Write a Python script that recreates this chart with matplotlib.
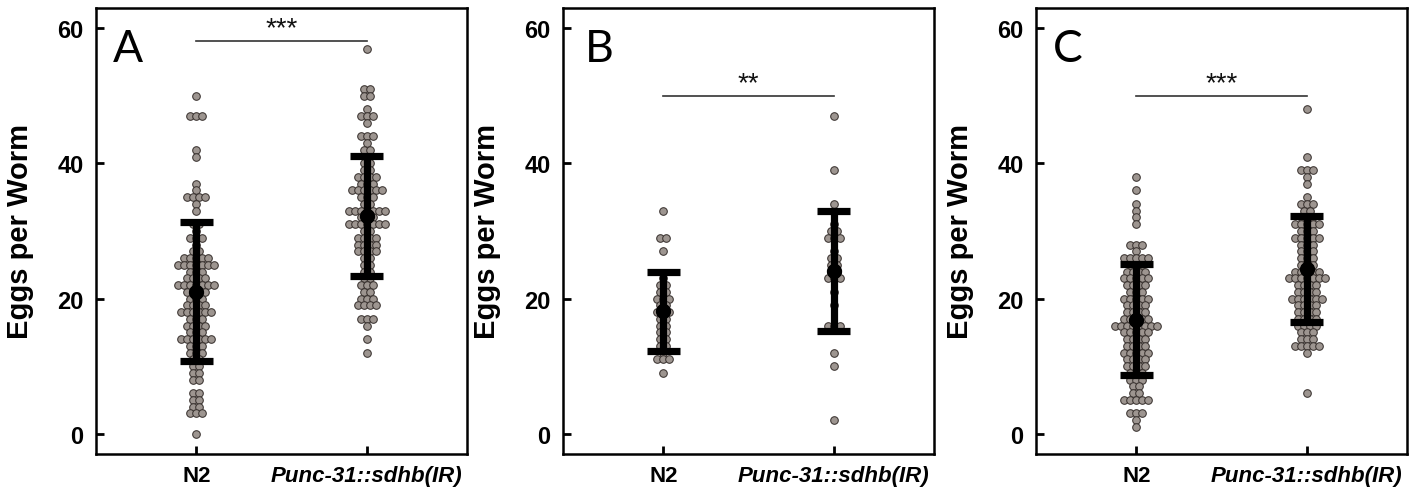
import numpy as np
import matplotlib
matplotlib.use("Agg")
import matplotlib.pyplot as plt

# ---------------- data ----------------
groups = ["N2", "Punc-31::sdhb(IR)"]
panel_letters = ["A", "B", "C"]
stars = ["***", "**", "***"]

# Panel A
a_n2_values = [50, 47, 42, 41, 37, 36, 35, 34, 33, 31, 30, 29, 28, 27, 26, 25, 24, 23, 22, 21,
               20, 19, 18, 17, 16, 15, 14, 13, 12, 11, 10, 9, 8, 6, 5, 4, 3, 0]
a_n2_counts = [1, 3, 1, 1, 1, 1, 4, 1, 1, 2, 1, 3, 1, 2, 5, 7, 3, 4, 7, 4,
               3, 4, 6, 3, 4, 3, 6, 3, 3, 2, 2, 2, 2, 2, 2, 2, 3, 1]
a_ir_values = [57, 51, 50, 48, 47, 46, 44, 43, 42, 41, 40, 39, 38, 37, 36, 35, 34, 33, 32, 31,
               30, 29, 28, 27, 26, 25, 24, 23, 22, 21, 20, 19, 17, 16, 14, 12]
a_ir_counts = [1, 2, 2, 1, 3, 1, 3, 1, 2, 1, 2, 2, 4, 3, 6, 3, 2, 7, 3, 7,
               2, 4, 4, 4, 2, 2, 2, 2, 3, 2, 3, 4, 3, 1, 1, 1]

# Panel B
b_n2_values = [33, 29, 27, 23, 22, 21, 20, 19, 18, 17, 16, 15, 14, 13, 12, 11, 9]
b_n2_counts = [1, 2, 1, 1, 2, 2, 3, 2, 3, 2, 2, 2, 2, 2, 1, 3, 1]
b_ir_values = [47, 39, 34, 31, 30, 29, 27, 26, 25, 24, 23, 21, 19, 16, 12, 10, 2]
b_ir_counts = [1, 1, 1, 1, 2, 3, 1, 2, 2, 2, 3, 1, 1, 3, 1, 1, 1]

# Panel C
c_n2_values = [38, 36, 34, 33, 32, 31, 28, 27, 26, 25, 24, 23, 22, 21, 20, 19, 18, 17, 16, 15,
               14, 13, 12, 11, 10, 9, 8, 7, 6, 5, 3, 2, 1]
c_n2_counts = [1, 1, 1, 1, 1, 1, 3, 1, 5, 3, 4, 5, 4, 3, 5, 4, 4, 5, 8, 5,
               4, 4, 5, 4, 4, 3, 3, 2, 2, 5, 3, 1, 1]
c_ir_values = [48, 41, 39, 38, 37, 35, 34, 33, 32, 31, 30, 29, 28, 27, 26, 25, 24, 23, 22, 21,
               20, 19, 18, 17, 16, 15, 14, 13, 12, 6]
c_ir_counts = [1, 1, 3, 1, 1, 1, 3, 2, 3, 5, 3, 5, 3, 3, 3, 3, 5, 7, 4, 4,
               6, 4, 4, 4, 4, 3, 3, 5, 1, 1]

# mean and SD bars: [N2, IR] per panel
means = [[21.0, 32.2], [18.1, 24.1], [16.9, 24.4]]
sds = [[10.3, 8.9], [5.85, 8.85], [8.25, 7.8]]
sig_line_y = [58.1, 50.0, 50.0]

panels = [
    (a_n2_values, a_n2_counts, a_ir_values, a_ir_counts),
    (b_n2_values, b_n2_counts, b_ir_values, b_ir_counts),
    (c_n2_values, c_n2_counts, c_ir_values, c_ir_counts),
]

# ---------------- styling ----------------
plt.rcParams["font.family"] = ["Liberation Sans", "DejaVu Sans"]
FIG_W, FIG_H = 1417, 489
fig = plt.figure(figsize=(FIG_W / 100, FIG_H / 100), dpi=100)

lefts_px = [96, 563, 1036]
ax_w_px = 371
ax_top_px, ax_bot_px = 9, 455
XLIM = (-0.59, 1.59)
STEP = 6.0 * (XLIM[1] - XLIM[0]) / ax_w_px  # horizontal spacing of equal values

dot_face = "#9d9590"
dot_edge = "#3b3431"


def row_layout(values, counts, center):
    xs, ys = [], []
    for v, c in zip(values, counts):
        offs = (np.arange(c) - (c - 1) / 2.0) * STEP
        xs.extend(center + offs)
        ys.extend([v] * c)
    return np.array(xs), np.array(ys)


for i, (n2v, n2c, irv, irc) in enumerate(panels):
    left = lefts_px[i] / FIG_W
    bottom = 1 - ax_bot_px / FIG_H
    height = (ax_bot_px - ax_top_px) / FIG_H
    ax = fig.add_axes([left, bottom, ax_w_px / FIG_W, height])
    ax.set_xlim(*XLIM)
    ax.set_ylim(-3, 63)

    for k, (vals, cnts) in enumerate([(n2v, n2c), (irv, irc)]):
        xs, ys = row_layout(vals, cnts, k)
        ax.scatter(xs, ys, s=30, facecolor=dot_face, edgecolor=dot_edge,
                   linewidth=0.75, zorder=2)

    # mean +- SD
    for k in range(2):
        m, s = means[i][k], sds[i][k]
        ax.plot([k, k], [m - s, m + s], color="black", lw=5.2,
                solid_capstyle="butt", zorder=4)
        for yy in (m - s, m + s):
            ax.plot([k - 0.098, k + 0.098], [yy, yy], color="black", lw=5.2,
                    solid_capstyle="butt", zorder=4)
        ax.plot([k], [m], "o", color="black", ms=10, zorder=5)

    # significance bar
    ax.plot([0, 1], [sig_line_y[i], sig_line_y[i]], color="#333333", lw=1.2, zorder=3)
    ax.text(0.5, sig_line_y[i] + 0.9, stars[i], ha="center", va="baseline",
            fontsize=20, color="#111111")

    # panel letter
    ax.text(0.045 if i != 1 else 0.058, 0.881, panel_letters[i], transform=ax.transAxes,
            fontsize=32, family=["Lato", "DejaVu Sans"], ha="left", va="baseline")

    # axes formatting
    ax.set_yticks([0, 20, 40, 60])
    ax.set_xticks([0, 1])
    ax.set_xticklabels(groups)
    ax.set_ylabel("Eggs per Worm", fontsize=21, fontweight="bold")
    ax.yaxis.set_label_coords(-0.168, 0.5)
    ax.tick_params(axis="both", direction="in", length=6, width=2)
    ax.tick_params(axis="y", pad=9, labelsize=17)
    ax.tick_params(axis="x", pad=8, labelsize=16)
    for lbl in ax.get_yticklabels():
        lbl.set_fontweight("bold")
    xl = ax.get_xticklabels()
    for lbl in xl:
        lbl.set_fontweight("bold")
    xl[1].set_fontstyle("italic")
    for sp in ax.spines.values():
        sp.set_linewidth(1.8)
        sp.set_color("black")

fig.savefig("out.png", dpi=100)
